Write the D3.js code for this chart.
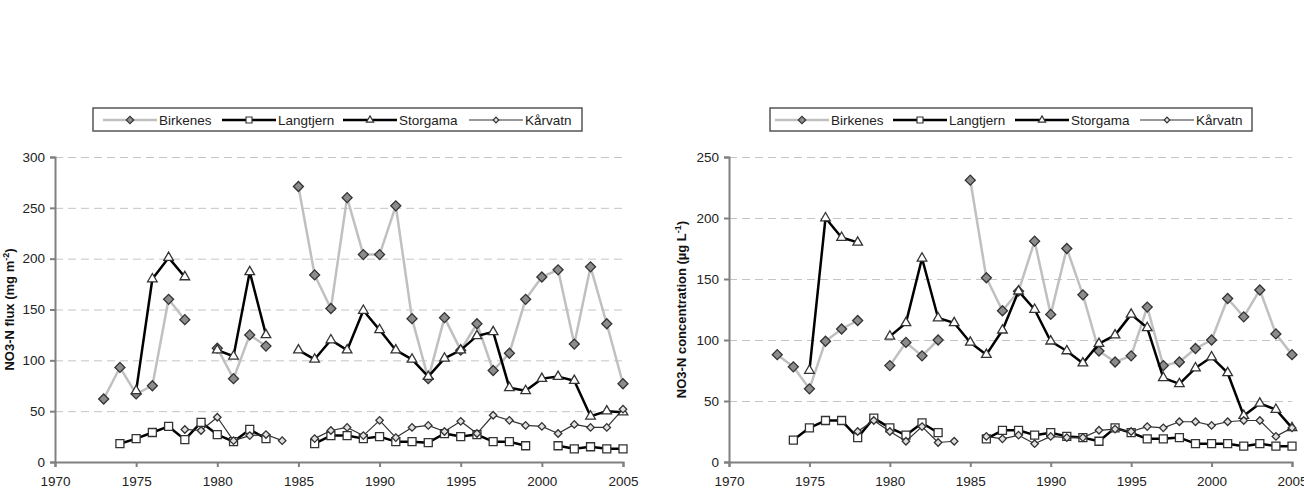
<!DOCTYPE html>
<html>
<head>
<meta charset="utf-8">
<script src="https://cdn.jsdelivr.net/npm/d3@7"></script>
<style>
  body { margin: 0; background: #fff; }
  svg { font-family: 'Liberation Sans', Arial, sans-serif; }
  .tick text { fill: #222; font-size: 13.5px; }
  .grid line { stroke: #c4c4c4; stroke-dasharray: 8,5; }
  .grid .domain { display: none; }
  .axis .domain, .axis .tick line { stroke: #808080; stroke-width: 2; }
</style>
</head>
<body>
<div id="chart"></div>
<script>
// Years shared by every series (null = no value that year)
const years = d3.range(1973, 2006)
const xTicks = [1970, 1975, 1980, 1985, 1990, 1995, 2000, 2005]
const seriesNames = ['Birkenes', 'Langtjern', 'Storgama', 'Kårvatn']

// Left panel - NO3-N flux (mg m-2)
const fluxBirkenes = [62, 93, 67, 75, 160, 140, null, 112, 82, 125, 114, null,
  271, 184, 151, 260, 204, 204, 252, 141, 82, 142, 110, 136, 90, 107, 160, 182, 189, 116, 192, 136, 77]
const fluxLangtjern = [null, 18, 23, 29, 35, 22, 39, 27, 20, 32, 23, null,
  null, 18, 26, 26, 23, 25, 20, 20, 19, 28, 25, 27, 20, 20, 16, null, 16, 13, 15, 13, 13]
const fluxStorgama = [null, null, 70, 180, 201, 182, null, 110, 104, 187, 125, null,
  110, 101, 120, 110, 149, 130, 110, 101, 84, 102, 110, 124, 128, 73, 70, 82, 84, 80, 45, 50, 49]
const fluxKarvatn = [null, null, null, null, null, 32, 31, 44, 21, 26, 27, 21,
  null, 23, 31, 34, 26, 41, 24, 34, 36, 30, 40, 28, 46, 41, 36, 35, 28, 37, 34, 34, 52]
const fluxTicks = [0, 50, 100, 150, 200, 250, 300]

// Right panel - NO3-N concentration (ug L-1)
const concBirkenes = [88, 78, 60, 99, 109, 116, null, 79, 98, 87, 100, null,
  231, 151, 124, 140, 181, 121, 175, 137, 91, 82, 87, 127, 79, 82, 93, 100, 134, 119, 141, 105, 88]
const concLangtjern = [null, 18, 28, 34, 34, 20, 36, 28, 22, 32, 24, null,
  null, 19, 26, 26, 22, 24, 21, 20, 17, 28, 24, 19, 19, 20, 15, 15, 15, 13, 15, 13, 13]
const concStorgama = [null, null, 75, 200, 184, 180, null, 103, 114, 167, 118, 114,
  98, 88, 108, 140, 125, 99, 91, 81, 97, 104, 121, 110, 69, 64, 77, 86, 73, 38, 48, 43, 28]
const concKarvatn = [null, null, null, null, null, 25, 34, 25, 17, 29, 16, 17,
  null, 21, 19, 22, 15, 21, 20, 20, 26, 27, 25, 29, 28, 33, 33, 30, 33, 34, 34, 21, 28]
const concTicks = [0, 50, 100, 150, 200, 250]

// Look for each series (line + marker)
const styles = [
  { line: '#c0c0c0', width: 2.5, shape: 'diamond', size: 50, fill: '#8c8c8c', stroke: '#333' },
  { line: '#000', width: 2.5, shape: 'square', size: 64, fill: '#fff', stroke: '#333' },
  { line: '#000', width: 2.5, shape: 'triangle', size: 40, fill: '#fff', stroke: '#333' },
  { line: '#333', width: 1.2, shape: 'diamond', size: 28, fill: '#e0e0e0', stroke: '#333' }
]

const width = 1304
const height = 491

const svg = d3.select('#chart')
  .append('svg')
  .attr('width', width)
  .attr('height', height)

svg.append('rect').attr('width', width).attr('height', height).attr('fill', '#fff')

const symbolPath = (style, scale = 1) => {
  const type = style.shape === 'triangle' ? d3.symbolTriangle : d3.symbolSquare
  return d3.symbol().type(type).size(style.size * scale * scale)()
}
const symbolRotate = (style) => style.shape === 'diamond' ? ' rotate(45)' : ''

const drawPanel = (opts) => {
  const { left, right, top, bottom, yMax, yTicks, series, title, legend } = opts

  const xScale = d3.scaleLinear().domain([1970, 2005]).range([left, right])
  const yScale = d3.scaleLinear().domain([0, yMax]).range([bottom, top])

  // Dashed gridlines
  svg.append('g')
    .attr('class', 'grid')
    .attr('transform', `translate(${left},0)`)
    .call(d3.axisLeft(yScale).tickValues(yTicks.slice(1)).tickSize(-(right - left)).tickFormat(''))

  // Bottom axis - year
  svg.append('g')
    .attr('class', 'axis')
    .attr('transform', `translate(0,${bottom})`)
    .call(d3.axisBottom(xScale).tickValues(xTicks).tickFormat(d3.format('d')).tickSize(5).tickPadding(9))

  // Left axis
  svg.append('g')
    .attr('class', 'axis')
    .attr('transform', `translate(${left},0)`)
    .call(d3.axisLeft(yScale).tickValues(yTicks).tickSize(5).tickPadding(5))

  // Axis title with superscript
  const t = svg.append('text')
    .attr('transform', `translate(${title.x},${(top + bottom) / 2}) rotate(-90)`)
    .attr('text-anchor', 'middle')
    .attr('font-size', '13px')
    .attr('font-weight', 'bold')
    .attr('fill', '#111')
  t.append('tspan').text(title.main)
  t.append('tspan').attr('font-size', '9px').attr('dy', -5).text(title.sup)
  t.append('tspan').attr('dy', 5).text(')')

  // Series lines and markers
  series.forEach((values, i) => {
    const st = styles[i]
    const pts = years.map((y, j) => ({ year: y, value: values[j] }))
    const line = d3.line()
      .defined(d => d.value != null)
      .x(d => xScale(d.year))
      .y(d => yScale(d.value))

    svg.append('path')
      .datum(pts)
      .attr('fill', 'none')
      .attr('stroke', st.line)
      .attr('stroke-width', st.width)
      .attr('stroke-linejoin', 'round')
      .attr('d', line)

    svg.append('g')
      .selectAll('path')
      .data(pts.filter(d => d.value != null))
      .join('path')
      .attr('transform', d => `translate(${xScale(d.year)},${yScale(d.value)})${symbolRotate(st)}`)
      .attr('d', symbolPath(st))
      .attr('fill', st.fill)
      .attr('stroke', st.stroke)
      .attr('stroke-width', 1.3)
  })

  // Legend box
  const lg = svg.append('g')
  lg.append('rect')
    .attr('x', legend.x0).attr('y', 108)
    .attr('width', legend.x1 - legend.x0).attr('height', 23)
    .attr('fill', '#fff').attr('stroke', '#555').attr('stroke-width', 1.5)

  seriesNames.forEach((name, i) => {
    const st = styles[i]
    const sx = legend.items[i]
    lg.append('line')
      .attr('x1', sx).attr('x2', sx + 54).attr('y1', 120).attr('y2', 120)
      .attr('stroke', st.line).attr('stroke-width', st.width)
    lg.append('path')
      .attr('transform', `translate(${sx + 27},120)${symbolRotate(st)}`)
      .attr('d', symbolPath(st, 0.75))
      .attr('fill', st.fill).attr('stroke', st.stroke).attr('stroke-width', 1.2)
    lg.append('text')
      .attr('x', sx + 56).attr('y', 125)
      .attr('font-size', '13.5px').attr('fill', '#222')
      .text(name)
  })
}

drawPanel({
  left: 55, right: 623, top: 157, bottom: 462,
  yMax: 300, yTicks: fluxTicks,
  series: [fluxBirkenes, fluxLangtjern, fluxStorgama, fluxKarvatn],
  title: { x: 14, main: 'NO3-N flux (mg m', sup: '-2' },
  legend: { x0: 93, x1: 582, items: [103, 222, 343, 469] }
})

drawPanel({
  left: 729, right: 1292, top: 157, bottom: 462,
  yMax: 250, yTicks: concTicks,
  series: [concBirkenes, concLangtjern, concStorgama, concKarvatn],
  title: { x: 686, main: 'NO3-N concentration (µg L', sup: '-1' },
  legend: { x0: 770, x1: 1252, items: [775, 893, 1015, 1140] }
})
</script>
</body>
</html>
